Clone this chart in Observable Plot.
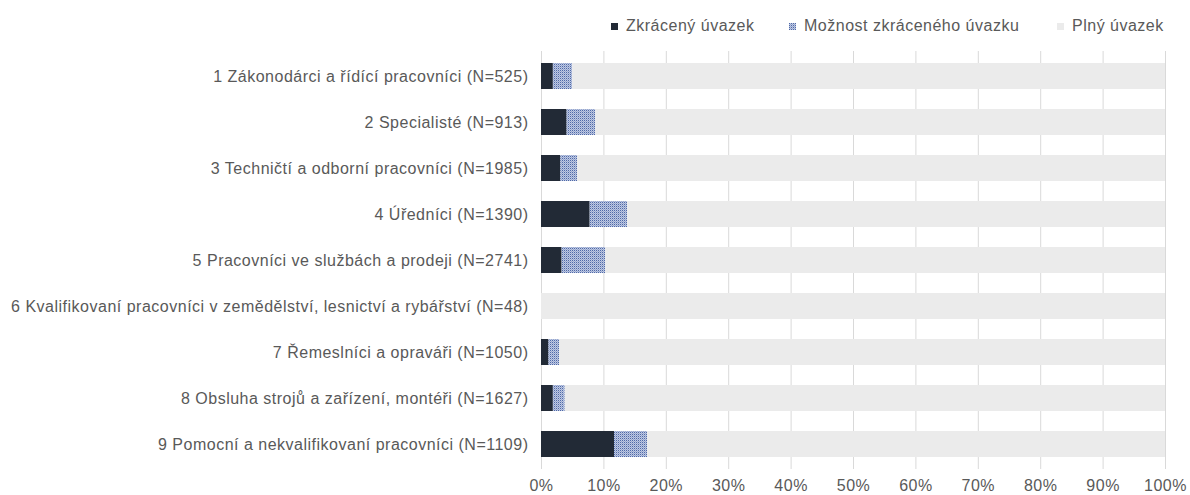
<!DOCTYPE html>
<html>
<head>
<meta charset="utf-8">
<script src="https://cdn.jsdelivr.net/npm/d3@7"></script>
<script src="https://cdn.jsdelivr.net/npm/@observablehq/plot@0.6"></script>
<style>
  body { margin: 0; background: #fff; font-family: "Liberation Sans", Arial, sans-serif; }
  #wrap { position: relative; width: 1190px; height: 495px; }
  #legend { position: relative; height: 50px; color: #595959; font-size: 16px; letter-spacing: 0.5px; }
  .li { position: absolute; top: 17px; display: flex; align-items: center; white-space: nowrap; }
  .sw { width: 7px; height: 7px; margin-right: 8px; }
  #chart svg text { letter-spacing: 0.5px; }
</style>
</head>
<body>
<svg width="0" height="0" style="position:absolute">
  <defs>
    <pattern id="pat" width="2" height="2" patternUnits="userSpaceOnUse">
      <rect width="2" height="2" fill="#bfc9e2"/>
      <rect x="0" y="0" width="1" height="1" fill="#4f69a8"/>
      <rect x="1" y="1" width="1" height="1" fill="#97a7cf"/>
    </pattern>
  </defs>
</svg>
<div id="wrap">
  <div id="legend"></div>
  <div id="chart"></div>
</div>
<script>
const categories = [
  "1 Zákonodárci a řídící pracovníci (N=525)",
  "2 Specialisté (N=913)",
  "3 Techničtí a odborní pracovníci (N=1985)",
  "4 Úředníci (N=1390)",
  "5 Pracovníci ve službách a prodeji (N=2741)",
  "6 Kvalifikovaní pracovníci v zemědělství, lesnictví a rybářství (N=48)",
  "7 Řemeslníci a opraváři (N=1050)",
  "8 Obsluha strojů a zařízení, montéři (N=1627)",
  "9 Pomocní a nekvalifikovaní pracovníci (N=1109)"
];
const series = ["Zkrácený úvazek", "Možnost zkráceného úvazku", "Plný úvazek"];
const zkraceny = [1.9, 4.1, 3.1, 7.8, 3.3, 0, 1.2, 1.9, 11.7];
const moznost  = [3.1, 4.6, 2.7, 6.0, 7.0, 0, 1.7, 1.9, 5.3];
const plny     = [95.0, 91.3, 94.2, 86.2, 89.7, 100, 97.1, 96.2, 83.0];
const xTicks = [0, 10, 20, 30, 40, 50, 60, 70, 80, 90, 100];
const colors = ["#222a36", "url(#pat)", "#ebebeb"];

const valuesBySeries = [zkraceny, moznost, plny];
const data = [];
series.forEach((s, si) => {
  categories.forEach((c, ci) => data.push({cat: c, series: s, value: valuesBySeries[si][ci]}));
});

// legend
const legend = document.getElementById("legend");
const legendX = [611, 789, 1057];
series.forEach((s, i) => {
  const d = document.createElement("div");
  d.className = "li";
  d.style.left = legendX[i] + "px";
  d.innerHTML = `<svg class="sw" width="7" height="7"><rect width="7" height="7" fill="${colors[i]}"/></svg><span>${s}</span>`;
  legend.appendChild(d);
});

const chart = Plot.plot({
  width: 1190,
  height: 445,
  marginTop: 1,
  marginBottom: 26,
  marginLeft: 541,
  marginRight: 25,
  style: {fontSize: "16px", fontFamily: "Liberation Sans, Arial, sans-serif", color: "#595959", background: "#fff"},
  x: {domain: [0, 100]},
  y: {domain: categories, paddingInner: 0.44, paddingOuter: 0.23},
  color: {domain: series, range: colors},
  marks: [
    Plot.ruleX(xTicks, {stroke: "#d9d9d9", strokeWidth: 1}),
    Plot.barX(data, Plot.stackX({x: "value", y: "cat", fill: "series", order: series})),
    Plot.axisY({tickSize: 0, tickPadding: 13, label: null}),
    Plot.axisX({ticks: xTicks, tickFormat: d => d + "%", tickSize: 0, tickPadding: 10, label: null})
  ]
});
document.getElementById("chart").appendChild(chart);
</script>
</body>
</html>
